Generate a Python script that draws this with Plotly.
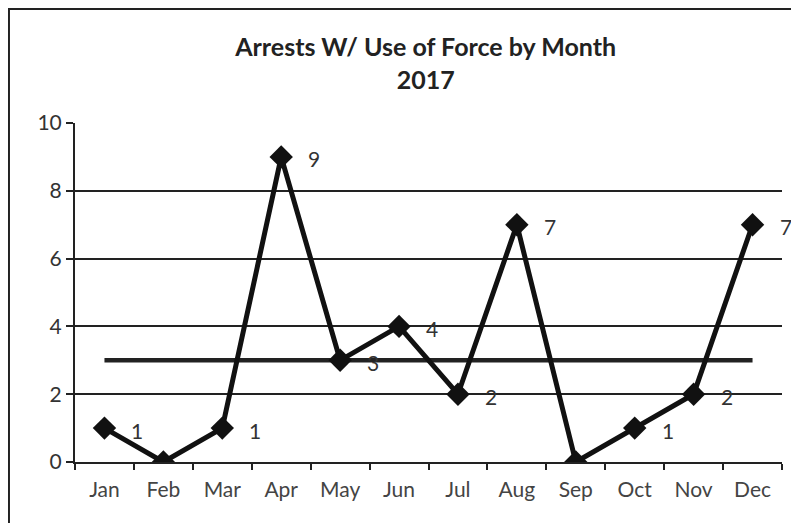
import plotly.graph_objects as go

months = ["Jan", "Feb", "Mar", "Apr", "May", "Jun", "Jul", "Aug", "Sep", "Oct", "Nov", "Dec"]
arrests = [1, 0, 1, 9, 3, 4, 2, 7, 0, 1, 2, 7]
point_labels = ["1", "", "1", "9", "3", "4", "2", "7", "", "1", "2", "7"]
average = [3, 3, 3, 3, 3, 3, 3, 3, 3, 3, 3, 3]
y_ticks = [0, 2, 4, 6, 8, 10]

fig = go.Figure()
fig.add_trace(go.Scatter(x=months, y=average, mode="lines",
                         line=dict(color="#222222", width=4.5), hoverinfo="skip"))
fig.add_trace(go.Scatter(x=months, y=arrests, mode="lines+markers",
                         line=dict(color="#111111", width=5),
                         marker=dict(symbol="diamond", size=18, color="#111111")))

for m, v, t in zip(months, arrests, point_labels):
    if t:
        fig.add_annotation(x=m, y=v, text=t, showarrow=False, xshift=33, yshift=-2,
                           font=dict(family="Lato", size=21, color="#333333"))

fig.add_shape(type="rect", xref="paper", yref="paper", x0=-0.0934, y0=-0.5, x1=1.2, y1=1.336,
              line=dict(color="#222222", width=2), layer="below")

fig.update_layout(
    width=791, height=515,
    margin=dict(l=67, r=17, t=115, b=61),
    paper_bgcolor="white", plot_bgcolor="white",
    showlegend=False,
    font=dict(family="Lato", color="#333333", size=20),
    title=dict(text="<b>Arrests W/ Use of Force by Month<br>2017</b>", x=0.528, xanchor="center",
               y=0.906, yanchor="top", font=dict(family="Lato", size=25, color="#222222")),
    xaxis=dict(type="category", showgrid=False, showline=True, linecolor="#222222", linewidth=2,
               ticks="outside", tickson="boundaries", ticklen=6, tickcolor="#222222", tickwidth=2,
               ticklabelstandoff=8,
               tickfont=dict(size=21, color="#444444"), range=[-0.5, 11.5]),
    yaxis=dict(range=[0, 10], tickvals=y_ticks, showgrid=True, gridcolor="#222222", gridwidth=1.5,
               showline=True, linecolor="#222222", linewidth=2, zeroline=False,
               ticks="outside", ticklen=7, tickcolor="#222222", tickwidth=2,
               tickfont=dict(size=21, color="#333333")),
)

fig.write_html("out.html")
